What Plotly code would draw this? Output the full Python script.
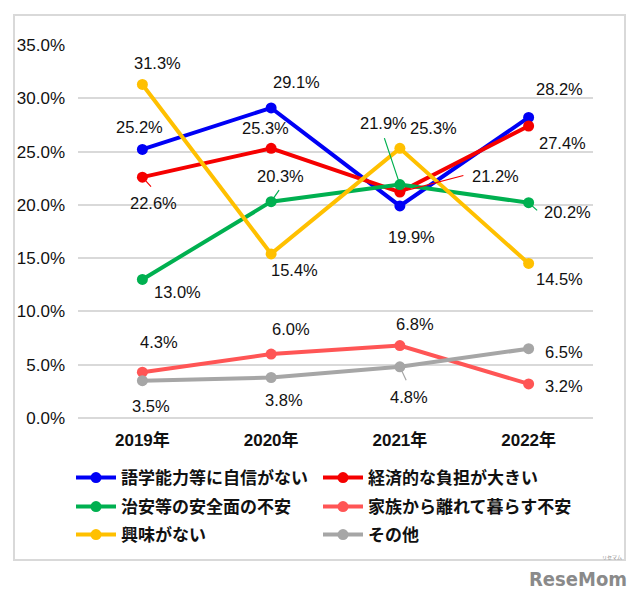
import plotly.graph_objects as go

years = ["2019年", "2020年", "2021年", "2022年"]
series_names = ["語学能力等に自信がない", "経済的な負担が大きい", "治安等の安全面の不安",
                "家族から離れて暮らす不安", "興味がない", "その他"]
v_lang = [25.2, 29.1, 19.9, 28.2]
v_cost = [22.6, 25.3, 21.2, 27.4]
v_safety = [13.0, 20.3, 21.9, 20.2]
v_family = [4.3, 6.0, 6.8, 3.2]
v_interest = [31.3, 15.4, 25.3, 14.5]
v_other = [3.5, 3.8, 4.8, 6.5]
y_ticks = [0, 5, 10, 15, 20, 25, 30, 35]
y_tick_labels = ["0.0%", "5.0%", "10.0%", "15.0%", "20.0%", "25.0%", "30.0%", "35.0%"]

values = [v_lang, v_cost, v_safety, v_family, v_interest, v_other]
colors = ["#0000F5", "#F50000", "#00B050", "#FF5555", "#FFC000", "#A6A6A6"]

# label pixel offsets (dx, dy) relative to each point (style only)
label_offsets = [
    [(-3, -22), (25, -26), (12, 31), (31, -28)],
    [(11, 26), (-6, -20), (96, -16), (34, 17)],
    [(35, 13), (9, -26), (-16, -62), (39, 9)],
    [(17, -30), (20, -25), (15, -22), (35, 2)],
    [(15, -21), (23, 16), (34, -20), (31, 16)],
    [(9, 25), (13, 22), (9, 30), (35, 3)],
]
# leader lines: (series index, point index, tail dx, tail dy)
leaders = [(1, 0, 10, 11), (2, 1, 9, -13), (2, 2, -16, -48), (1, 2, 65, -17),
           (2, 3, 10, 9), (5, 2, 7, 15)]

# page body has an 8px margin; target coordinates are screen pixels
OFF = 8
W, H = 640, 599
PL, PR, PT, PB = 78 - OFF, 593 - OFF, 45 - OFF, 418 - OFF
def px(x):
    return (x - OFF - PL) / (PR - PL)
def py(y):
    return (PB - (y - OFF)) / (PB - PT)

# legend slots: (screen x of legend start, screen y of row centre)
legend_slots = [(71, 478), (318, 478), (71, 507), (318, 507), (71, 535), (318, 535)]
legend_ids = ["legend"] + [f"legend{i}" for i in range(2, 7)]

fig = go.Figure()
for name, vals, col, lg in zip(series_names, values, colors, legend_ids):
    fig.add_trace(go.Scatter(
        x=years, y=vals, name=name, mode="lines+markers",
        line=dict(color=col, width=4),
        marker=dict(color=col, size=11),
        legend=lg,
    ))

label_font = dict(family="Liberation Sans, Arial, sans-serif", size=16.5, color="#111111")
for si, vals in enumerate(values):
    for pi, v in enumerate(vals):
        dx, dy = label_offsets[si][pi]
        fig.add_annotation(x=years[pi], y=v, text=f"{v:.1f}%", showarrow=False,
                           xshift=dx, yshift=-dy, font=label_font)

for si, pi, tx, ty in leaders:
    fig.add_annotation(x=years[pi], y=values[si][pi], text="", showarrow=True,
                       arrowhead=0, arrowwidth=1.2, arrowcolor=colors[si],
                       ax=tx, ay=ty, axref="pixel", ayref="pixel", standoff=0)

fig.add_shape(type="rect", xref="paper", yref="paper",
              x0=px(14), x1=px(625), y0=py(560), y1=py(15),
              line=dict(color="#D9D9D9", width=2), fillcolor="rgba(0,0,0,0)", layer="below")

fig.add_annotation(xref="paper", yref="paper", x=px(629), y=py(579), xanchor="right", yanchor="middle",
                   text="<b>ReseMom</b>", showarrow=False,
                   font=dict(family="Liberation Sans Narrow, DejaVu Sans Condensed, sans-serif", size=20, color="#8A8A8A"))
fig.add_annotation(xref="paper", yref="paper", x=px(612), y=py(563), xanchor="center", yanchor="bottom",
                   text="リセマム", showarrow=False,
                   font=dict(family="Noto Sans CJK JP", size=5, color="#8A8A8A"))

legend_font = dict(family="Noto Sans CJK JP, sans-serif", size=17, color="#111111", weight="bold")
legend_layout = {}
for lg, (lx, ly) in zip(legend_ids, legend_slots):
    legend_layout[lg] = dict(orientation="h", x=px(lx), xanchor="left", y=py(ly), yanchor="middle",
                             font=legend_font, itemwidth=40, tracegroupgap=0,
                             bgcolor="rgba(0,0,0,0)")

fig.update_layout(
    width=W, height=H,
    margin=dict(l=PL, r=W - PR, t=PT, b=H - PB, autoexpand=False),
    paper_bgcolor="white", plot_bgcolor="white",
    showlegend=True,
    xaxis=dict(type="category", showgrid=False, showline=False, zeroline=False,
               ticks="", tickfont=dict(family="Liberation Sans, Noto Sans CJK JP, sans-serif", size=17,
                                       color="#111111", weight="bold"),
               ticklabelstandoff=10, range=[-0.5, 3.5]),
    yaxis=dict(range=[0, 35], tickvals=y_ticks, ticktext=y_tick_labels,
               showgrid=True, gridcolor="#D9D9D9", gridwidth=1.5,
               zeroline=True, zerolinecolor="#D9D9D9", zerolinewidth=1.5,
               showline=False, ticks="",
               tickfont=dict(family="Liberation Sans, Arial, sans-serif", size=17, color="#111111"),
               ticklabelstandoff=12),
    **legend_layout,
)

fig.write_html("out.html")
